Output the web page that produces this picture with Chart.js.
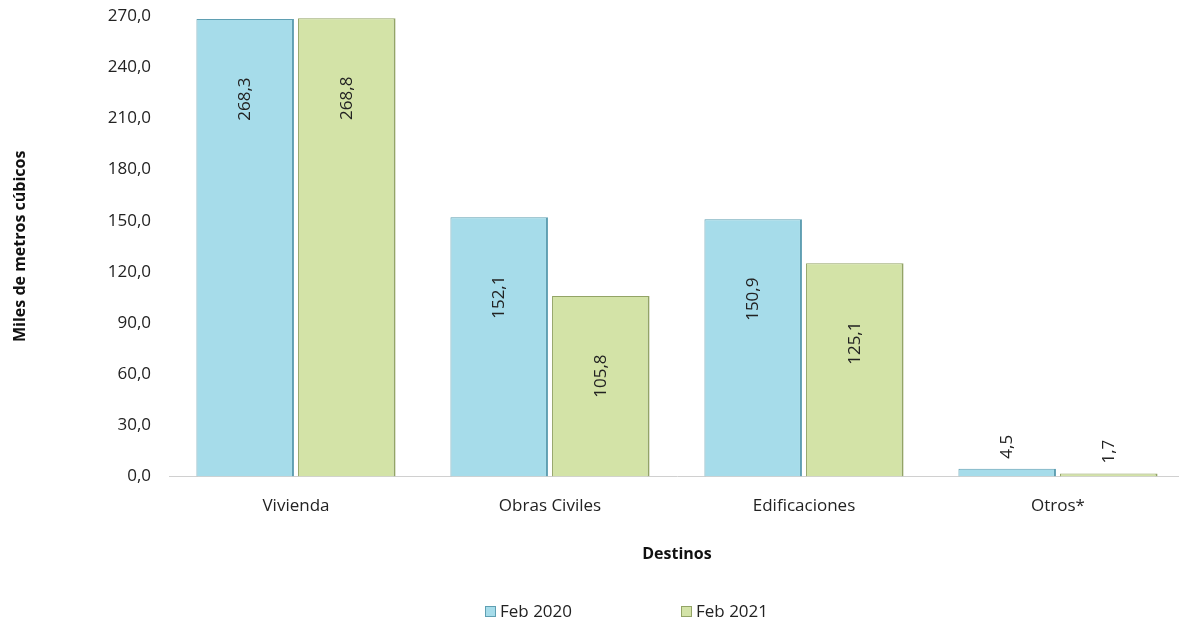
<!DOCTYPE html>
<html>
<head>
<meta charset="utf-8">
<script src="https://cdn.jsdelivr.net/npm/chart.js@4"></script>
<style>
  html, body { margin: 0; padding: 0; background: #fff; overflow: hidden; }
  #wrap { width: 1190px; height: 638px; margin-top: -12px; }
</style>
</head>
<body>
<div id="wrap"><canvas id="chart"></canvas></div>
<script>
// data
const categories = ["Vivienda", "Obras Civiles", "Edificaciones", "Otros*"];
const feb2020 = [268.3, 152.1, 150.9, 4.5];
const feb2021 = [268.8, 105.8, 125.1, 1.7];
const seriesNames = ["Feb 2020", "Feb 2021"];
const yMax = 270;
const yStep = 30;

const fmt = (v) => v.toFixed(1).replace(".", ",");
const FONT = "'Open Sans', 'Noto Sans', sans-serif";

// rotated value labels, inside the bar near its top, or above when the bar is short
const valueLabels = {
  id: "valueLabels",
  afterDatasetsDraw(chart) {
    const ctx = chart.ctx;
    ctx.save();
    ctx.font = "17px " + FONT;
    ctx.fillStyle = "#222";
    ctx.textBaseline = "middle";
    chart.data.datasets.forEach((ds, i) => {
      chart.getDatasetMeta(i).data.forEach((bar, j) => {
        const txt = fmt(ds.data[j]);
        const w = ctx.measureText(txt).width;
        const h = bar.base - bar.y;
        let cy;
        if (h > 120) {
          cy = bar.y + 80;
        } else {
          cy = bar.y - 10 - w / 2;
        }
        ctx.save();
        ctx.translate(bar.x, cy);
        ctx.rotate(-Math.PI / 2);
        ctx.textAlign = "center";
        ctx.fillText(txt, 0, 0);
        ctx.restore();
      });
    });
    ctx.restore();
  }
};

// legend drawn by hand so the wide gap between items does not add height
const bottomLegend = {
  id: "bottomLegend",
  afterDraw(chart) {
    const ctx = chart.ctx;
    ctx.save();
    ctx.font = "17px " + FONT;
    ctx.textBaseline = "middle";
    const y = chart.height - 14;
    let x = 485;
    chart.data.datasets.forEach((ds) => {
      ctx.fillStyle = ds.backgroundColor;
      ctx.fillRect(x, y - 6, 11, 11);
      ctx.strokeStyle = ds.borderColor;
      ctx.lineWidth = 1;
      ctx.strokeRect(x + 0.5, y - 5.5, 10, 10);
      ctx.fillStyle = "#222";
      ctx.textAlign = "left";
      ctx.fillText(ds.label, x + 15, y);
      x += 196;
    });
    ctx.restore();
  }
};

new Chart(document.getElementById("chart"), {
  type: "bar",
  data: {
    labels: categories,
    datasets: [
      {
        label: seriesNames[0],
        data: feb2020,
        backgroundColor: "#a6dcea",
        borderColor: "#5f9fb2",
        borderWidth: { top: 1, left: 1, right: 2, bottom: 0 },
        borderSkipped: false,
        categoryPercentage: 0.8,
        barPercentage: 0.96
      },
      {
        label: seriesNames[1],
        data: feb2021,
        backgroundColor: "#d3e3a7",
        borderColor: "#93a466",
        borderWidth: { top: 1, left: 1, right: 2, bottom: 0 },
        borderSkipped: false,
        categoryPercentage: 0.8,
        barPercentage: 0.96
      }
    ]
  },
  options: {
    responsive: true,
    maintainAspectRatio: false,
    animation: false,
    layout: { padding: { top: 0, right: 5, left: 0, bottom: 40 } },
    plugins: {
      tooltip: { enabled: false },
      legend: { display: false }
    },
    scales: {
      x: {
        grid: { display: false, drawTicks: false },
        border: { color: "#d0d0d0", width: 1 },
        ticks: { font: { family: FONT, size: 17 }, color: "#222", padding: 20 },
        title: {
          display: true,
          text: "Destinos",
          font: { family: FONT, size: 16, weight: "bold" },
          color: "#111",
          padding: { top: 8, bottom: 22 }
        }
      },
      y: {
        min: 0,
        max: yMax,
        afterFit(scale) { scale.width = 169; },
        grid: { display: false, drawTicks: false },
        border: { display: false },
        ticks: {
          stepSize: yStep,
          font: { family: FONT, size: 17 },
          color: "#222",
          padding: 18,
          callback: (v) => fmt(v)
        },
        title: {
          display: true,
          text: "Miles de metros cúbicos",
          font: { family: FONT, size: 16, weight: "bold" },
          color: "#111",
          padding: { top: 11, bottom: 0 }
        }
      }
    }
  },
  plugins: [valueLabels, bottomLegend]
});
</script>
</body>
</html>
